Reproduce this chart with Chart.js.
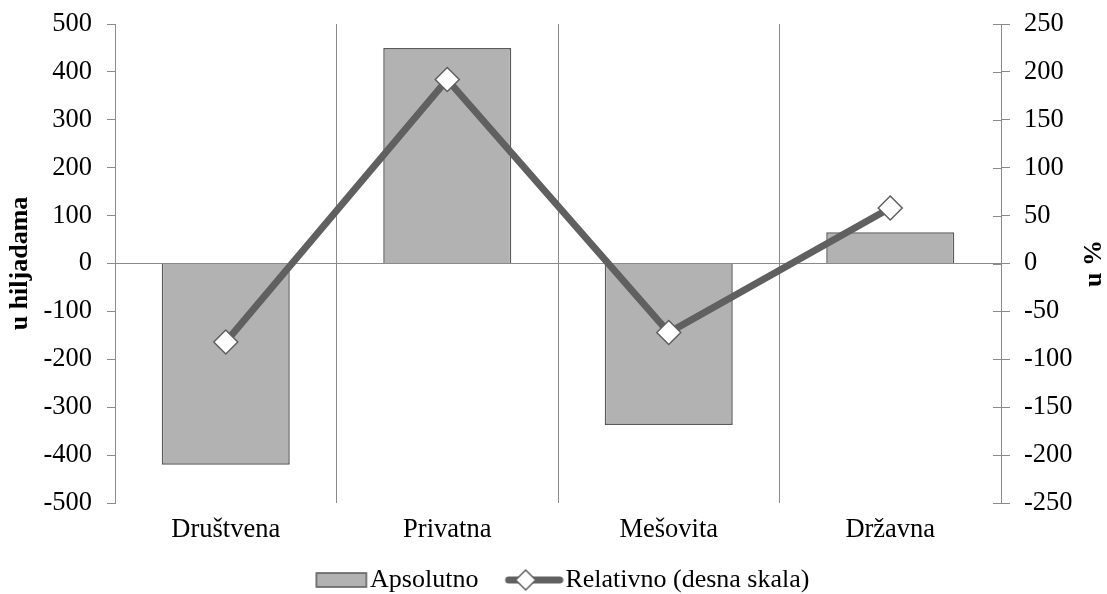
<!DOCTYPE html>
<html>
<head>
<meta charset="utf-8">
<script src="https://cdn.jsdelivr.net/npm/chart.js@4.4.0/dist/chart.umd.min.js"></script>
<style>
  html, body { margin: 0; padding: 0; background: #fff; }
</style>
</head>
<body>
<canvas id="myChart" width="1107" height="594"></canvas>
<script>
const categories = ['Društvena', 'Privatna', 'Mešovita', 'Državna'];
const apsolutno = [-420, 450, -337, 65];
const relativno = [-82, 192, -72, 58];
const leftTicks = [-500, -400, -300, -200, -100, 0, 100, 200, 300, 400, 500];
const rightTicks = [-250, -200, -150, -100, -50, 0, 50, 100, 150, 200, 250];

const barFill = '#b2b2b2';
const barBorder = '#5a5a5a';
const lineColor = '#606060';
const gridGray = '#8a8a8a';
const serif = '"Liberation Serif", "Times New Roman", serif';

Chart.defaults.font.family = serif;
Chart.defaults.font.size = 26.5;
Chart.defaults.color = '#000';

function makeIcon(w, h, draw) {
  const c = document.createElement('canvas');
  c.width = w; c.height = h;
  draw(c.getContext('2d'));
  return c;
}

// legend icons: drawn in the right part of the image so the text sits close to them
const barIcon = makeIcon(82, 30, g => {
  g.fillStyle = barFill;
  g.fillRect(30, 8, 50, 14);
  g.strokeStyle = barBorder;
  g.lineWidth = 1.5;
  g.strokeRect(30, 8, 50, 14);
});
const lineIcon = makeIcon(82, 30, g => {
  g.strokeStyle = lineColor;
  g.lineWidth = 7;
  g.lineCap = 'round';
  g.beginPath(); g.moveTo(27, 15); g.lineTo(78, 15); g.stroke();
  g.fillStyle = '#fff';
  g.lineWidth = 1.5;
  g.beginPath();
  g.moveTo(34, 15); g.lineTo(44, 5); g.lineTo(54, 15); g.lineTo(44, 25); g.closePath();
  g.fill(); g.stroke();
});

const axisExtras = {
  id: 'axisExtras',
  afterDraw(chart) {
    const ctx = chart.ctx;
    const y1 = chart.scales.y1;
    ctx.save();
    ctx.strokeStyle = gridGray;
    ctx.lineWidth = 1;
    y1.ticks.forEach(t => {
      const py = Math.round(y1.getPixelForValue(t.value)) + 0.5;
      ctx.beginPath();
      ctx.moveTo(y1.left - 8, py);
      ctx.lineTo(y1.left, py);
      ctx.stroke();
    });
    ctx.translate(y1.right - 13, (chart.chartArea.top + chart.chartArea.bottom) / 2);
    ctx.rotate(-Math.PI / 2);
    ctx.font = 'bold 26px ' + serif;
    ctx.textAlign = 'center';
    ctx.textBaseline = 'middle';
    ctx.fillStyle = '#000';
    ctx.fillText('u %', 0, 0);
    ctx.restore();
  }
};

const ctx = document.getElementById('myChart');

new Chart(ctx, {
  type: 'bar',
  data: {
    labels: categories,
    datasets: [{
      type: 'bar',
      label: 'Apsolutno',
      data: apsolutno,
      yAxisID: 'y',
      backgroundColor: barFill,
      borderColor: barBorder,
      borderWidth: 1.5,
      barPercentage: 0.578,
      categoryPercentage: 1,
      order: 2
    }, {
      type: 'line',
      label: 'Relativno (desna skala)',
      data: relativno,
      yAxisID: 'y1',
      borderColor: lineColor,
      borderWidth: 7,
      tension: 0,
      pointStyle: 'rectRot',
      pointRadius: 12,
      pointBackgroundColor: '#fff',
      pointBorderColor: lineColor,
      pointBorderWidth: 1.5,
      order: 1
    }]
  },
  options: {
    responsive: false,
    devicePixelRatio: 1,
    animation: false,
    layout: { padding: { top: 24, left: 0, right: 0, bottom: -9 } },
    plugins: {
      tooltip: { enabled: false },
      legend: {
        position: 'bottom',
        labels: {
          usePointStyle: true,
          pointStyleWidth: 59.5,
          padding: 14.5,
          font: { size: 26 },
          generateLabels: () => [
            { text: 'Apsolutno', pointStyle: barIcon, datasetIndex: 0, lineWidth: 0, fontColor: '#000' },
            { text: 'Relativno (desna skala)', pointStyle: lineIcon, datasetIndex: 1, lineWidth: 0, fontColor: '#000' }
          ]
        }
      }
    },
    scales: {
      x: {
        afterFit: s => { s.height = 49.5; },
        border: { display: false },
        grid: { offset: true, color: gridGray, lineWidth: 1, drawTicks: false },
        ticks: { padding: 11 }
      },
      y: {
        position: 'left',
        min: leftTicks[0],
        max: leftTicks[leftTicks.length - 1],
        afterFit: s => { s.width = 115; s.paddingTop = 0; s.paddingBottom = 0; },
        afterBuildTicks: s => { s.ticks = leftTicks.map(v => ({ value: v })); },
        border: { color: gridGray, width: 1 },
        grid: {
          color: c => (c.tick && c.tick.value === 0 ? gridGray : 'rgba(0,0,0,0)'),
          tickColor: gridGray,
          tickLength: 8
        },
        ticks: { padding: 15 },
        title: { display: true, text: 'u hiljadama', font: { size: 26, weight: 'bold' }, padding: { top: 5, bottom: 0 } }
      },
      y1: {
        position: 'right',
        min: rightTicks[0],
        max: rightTicks[rightTicks.length - 1],
        afterFit: s => { s.width = 106; s.paddingTop = 0; s.paddingBottom = 0; },
        afterBuildTicks: s => { s.ticks = rightTicks.map(v => ({ value: v })); },
        border: { color: gridGray, width: 1 },
        grid: { drawOnChartArea: false, tickColor: gridGray, tickLength: 9 },
        ticks: { padding: 14 }
      }
    }
  },
  plugins: [axisExtras]
});
</script>
</body>
</html>
